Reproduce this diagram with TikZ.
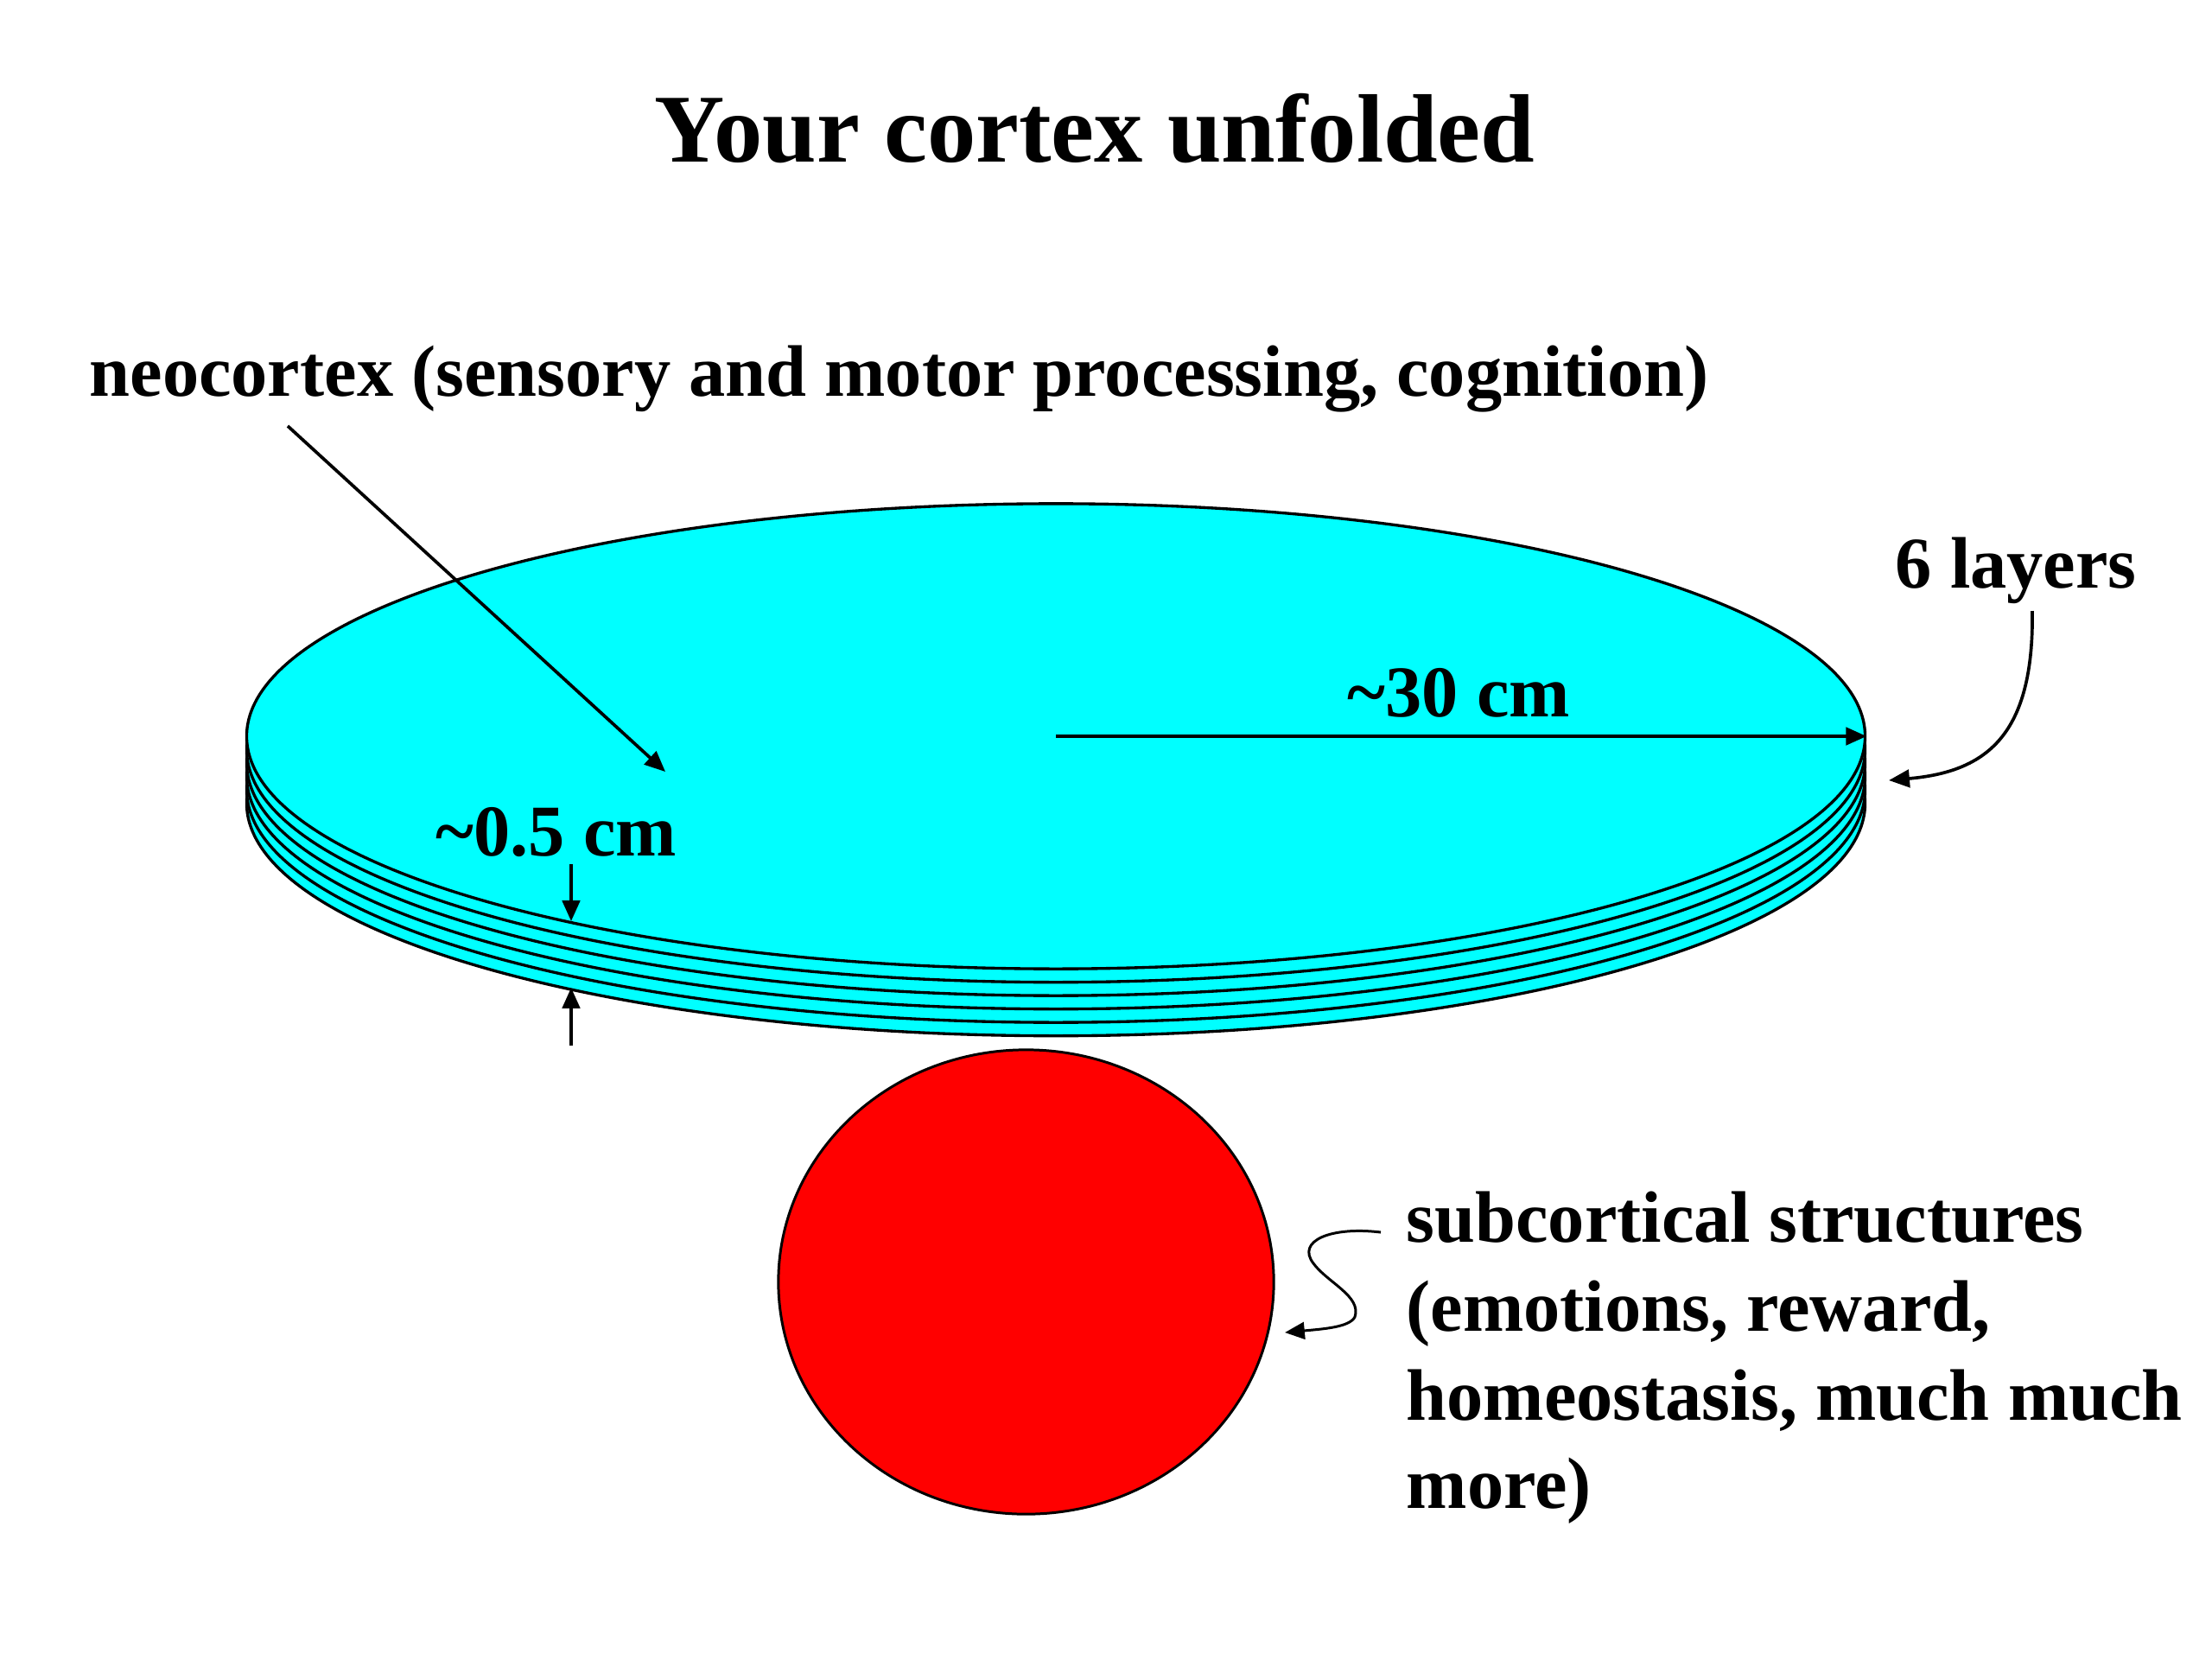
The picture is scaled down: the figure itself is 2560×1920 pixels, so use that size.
\documentclass[tikz,border=0pt]{standalone}
\usepackage{fontspec}
\setmainfont{Liberation Serif}
\usetikzlibrary{arrows.meta,shapes.geometric}
\definecolor{sheetcyan}{RGB}{0,255,255}
\definecolor{blobred}{RGB}{255,0,0}
\begin{document}
\begin{tikzpicture}[x=0.01cm,y=-0.01cm,
  lbl/.style={font=\fontsize{24}{29}\selectfont\bfseries, inner sep=0, anchor=base west},
  ttl/.style={font=\fontsize{32}{38}\selectfont\bfseries, inner sep=0, anchor=base},
  arr/.style={line width=1.05pt, -{Triangle[length=6.8pt,width=5.8pt]}},
  thinarr/.style={line width=0.85pt, -{Triangle[length=6.5pt,width=5.6pt]}},
  layer/.style={ellipse, fill=sheetcyan, draw=black, line width=0.95pt, inner sep=0,
    minimum width=18.72cm, minimum height=5.38cm},
  blob/.style={ellipse, fill=blobred, draw=black, line width=0.85pt, inner sep=0,
    minimum width=5.73cm, minimum height=5.37cm},
]
\useasboundingbox[fill=white] (0,0) rectangle (2560,1920);

% title
\node[ttl] (title) at (1267,187) {Your cortex unfolded};

% stacked layers of the cortex sheet (bottom first)
\foreach \k in {5,4,3,2,1,0} {
  \node[layer] (L\k) at (1222,{852+15.5*\k}) {};
}

% subcortical blob
\node[blob] (sub) at (1187.5,1483.5) {};

% labels
\node[lbl] (neo) at (103,458) {neocortex (sensory and motor processing, cognition)};
\node[lbl] (six) at (2193,680) {6 layers};
\node[lbl] (thirty) at (1559,829) {\textasciitilde30 cm};
\node[lbl] (half) at (504,990) {\textasciitilde0.5 cm};
\node[lbl] (s1) at (1627,1437) {subcortical structures};
\node[lbl] (s2) at (1627,1540) {(emotions, reward,};
\node[lbl] (s3) at (1627,1643) {homeostasis, much much};
\node[lbl] (s4) at (1627,1745) {more)};

% connectors
\coordinate (neoS) at (333,493);
\coordinate (neoE) at (770,893);
\draw[arr] (neoS) -- (neoE);

\draw[arr] (L0.center) -- (L0.east);

\coordinate (hTopS) at (661,1000);
\coordinate (hTopE) at (661,1066);
\coordinate (hBotS) at (661,1210);
\coordinate (hBotE) at (661,1143);
\draw[arr] (hTopS) -- (hTopE);
\draw[arr] (hBotS) -- (hBotE);

\coordinate (sixS) at (2352,707);
\coordinate (sixE) at (2186,903);
\draw[arr] (sixS) .. controls (2354,850) and (2300,893) .. (sixE);

\coordinate (subS) at (1598,1426);
\coordinate (subE) at (1487,1542);
\draw[thinarr] (subS) .. controls (1540,1419) and (1500,1436) .. (1520,1462)
  .. controls (1536,1484) and (1576,1500) .. (1568,1524)
  .. controls (1562,1536) and (1530,1538) .. (subE);
\end{tikzpicture}
\end{document}
